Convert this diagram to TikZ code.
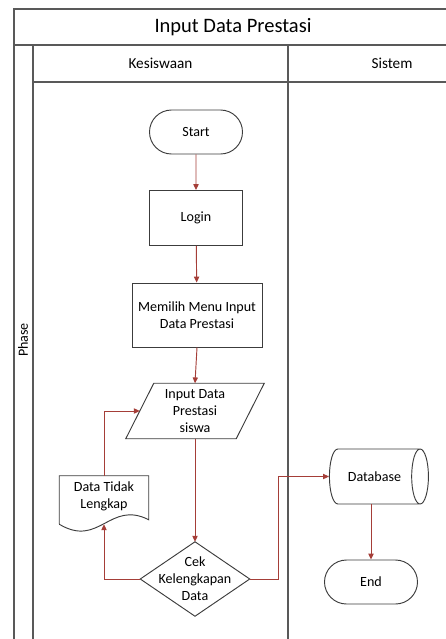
\documentclass[tikz,border=0pt]{standalone}
\usepackage{fontspec}
\setmainfont{Carlito}
\usetikzlibrary{arrows.meta,shapes.misc,shapes.geometric}

\definecolor{flowred}{RGB}{165,62,56}
\definecolor{edgegray}{RGB}{60,60,60}

\tikzset{
  lane/.style={draw=black!65,line width=1pt},
  shp/.style={draw=edgegray,line width=0.8pt},
  txt/.style={font=\fontsize{12}{14.5}\selectfont,text=black,align=center},
  term/.style={shp,txt,rounded rectangle,minimum width=2.79cm,minimum height=1.32cm,inner sep=0pt},
  proc/.style={shp,txt,rectangle,inner sep=0pt},
  ghost/.style={txt,rectangle,inner sep=0pt},
  flow/.style={draw=flowred,line width=0.8pt,-{Triangle[length=5pt,width=4.5pt]}},
}

\begin{document}
\begin{tikzpicture}[x=0.03cm,y=-0.03cm]
\useasboundingbox (0,0) rectangle (446,639);

% pool frame
\draw[lane] (14,639) -- (14,9) -- (446,9);
\draw[lane] (14,45) -- (446,45);
\draw[lane] (33,82) -- (446,82);
\draw[lane] (33,45) -- (33,639);
\draw[lane] (288,45) -- (288,639);

% titles
\node[font=\fontsize{17.5}{20}\selectfont,text=black] (title) at (233,27) {Input Data Prestasi};
\node[font=\fontsize{13}{15}\selectfont,text=black] (lanea) at (160.5,63.5) {Kesiswaan};
\node[font=\fontsize{13}{15}\selectfont,text=black] (laneb) at (392,63.5) {Sistem};
\node[txt,rotate=90] (phase) at (23,340) {Phase};

% lane Kesiswaan
\node[term] (start) at (196,132) {Start};
\node[proc,minimum width=2.79cm,minimum height=1.65cm] (login) at (196,218) {Login};
\node[proc,minimum width=3.9cm,minimum height=1.92cm] (menu) at (197,315) {Memilih Menu Input\\Data Prestasi};

%input (parallelogram)
\node[ghost,minimum width=3.3cm,minimum height=1.65cm] (inp) at (195,411) {Input Data\\Prestasi\\siswa};
\draw[shp] ([xshift=14*0.03cm]inp.north west) -- ([xshift=14*0.03cm]inp.north east)
  -- ([xshift=-14*0.03cm]inp.south east) -- ([xshift=-14*0.03cm]inp.south west) -- cycle;

%document
\node[ghost,minimum width=2.67cm,minimum height=1.44cm,text depth=0.3cm] (doc) at (104,500) {Data Tidak\\Lengkap};
\draw[shp] (doc.south west) -- (doc.north west) -- (doc.north east) -- ++(0,44)
  .. controls +(-39,-20) and +(40,24) .. (doc.south west);

%decision
\node[ghost,minimum width=3.27cm,minimum height=2.22cm] (dec) at (195,579) {Cek\\Kelengkapan\\Data};
\draw[shp] (dec.north) -- (dec.east) -- (dec.south) -- (dec.west) -- cycle;

% lane Sistem
\node[shp,txt,cylinder,aspect=1.7,minimum width=1.65cm,minimum height=2.97cm,inner sep=0pt] (db) at (374.5,476.5) {Database};
\node[term] (end) at (371,582) {End};

% connectors
\draw[flow] (start) -- (login);
\draw[flow] (login) -- (menu);
\draw[flow] (menu.south) -- (inp.north);
\draw[flow] (inp.south) -- (dec.north);
\draw[flow] (dec.west) -| (doc.south);
\draw[flow] (doc.north) |- (inp.west);
\draw[flow] (dec.east) -- ++(29,0) |- (db.west);
\draw[flow] (db.south -| end.north) -- (end.north);

\end{tikzpicture}
\end{document}
